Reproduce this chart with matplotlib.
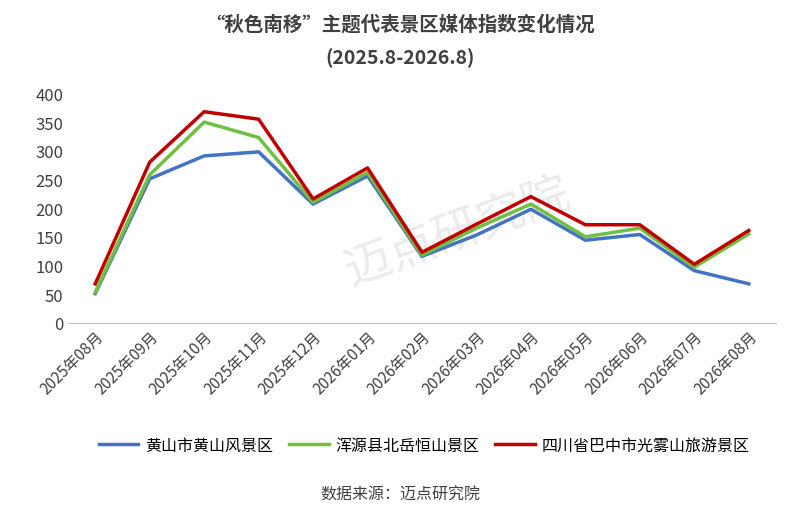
import matplotlib.pyplot as plt

plt.rcParams['font.family'] = ['Noto Sans CJK SC', 'DejaVu Sans']

months = ['2025年08月', '2025年09月', '2025年10月', '2025年11月', '2025年12月', '2026年01月',
          '2026年02月', '2026年03月', '2026年04月', '2026年05月', '2026年06月', '2026年07月', '2026年08月']
huangshan = [51, 251, 291, 298, 207, 256, 116, 153, 198, 144, 154, 91, 68]
hengshan = [53, 258, 350, 323, 210, 262, 118, 165, 207, 150, 165, 97, 155]
guangwu = [68, 280, 368, 355, 216, 270, 123, 172, 220, 171, 171, 102, 161]
names = ['黄山市黄山风景区', '浑源县北岳恒山景区', '四川省巴中市光雾山旅游景区']

fig = plt.figure(figsize=(8, 5.1), dpi=100)
ax = fig.add_axes([0.085, 0.365, 0.885, 0.45])
x = range(len(months))
ax.plot(x, huangshan, color='#4472C4', lw=2.5, label=names[0])
ax.plot(x, hengshan, color='#70C040', lw=2.5, label=names[1])
ax.plot(x, guangwu, color='#C00000', lw=2.5, label=names[2])

ax.set_ylim(0, 400)
ax.set_yticks(range(0, 401, 50))
ax.set_xlim(-0.5, len(months) - 0.5)
ax.set_xticks(list(x))
ax.set_xticklabels(months, rotation=45, ha='right', rotation_mode='anchor', fontsize=11, color='#404040')
ax.tick_params(axis='y', labelsize=12, colors='#404040', length=0)
ax.tick_params(axis='x', length=0)
for s in ['top', 'right', 'left']:
    ax.spines[s].set_visible(False)
ax.spines['bottom'].set_color('#BFBFBF')

fig.text(0.5, 0.94, '“秋色南移”主题代表景区媒体指数变化情况', ha='center', fontsize=14, weight='bold', color='#404040')
fig.text(0.5, 0.875, '(2025.8-2026.8)', ha='center', fontsize=14, weight='bold', color='#404040')
ax.text(0.55, 0.4, '迈点研究院', transform=ax.transAxes, ha='center', va='center', fontsize=34,
        color='#EBEBEB', rotation=20, zorder=0)
fig.legend(loc='center', bbox_to_anchor=(0.53, 0.125), ncol=3, frameon=False, fontsize=11.5,
           handlelength=2.5, columnspacing=1.0, handletextpad=0.4)
fig.text(0.5, 0.02, '数据来源：迈点研究院', ha='center', fontsize=11.5, color='#404040')
fig.savefig('out.png')
